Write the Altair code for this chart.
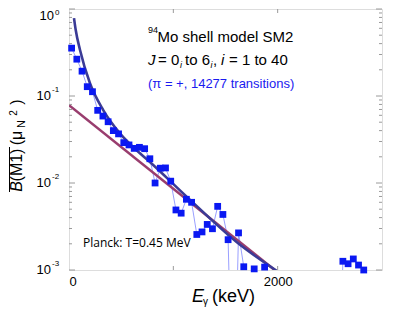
import altair as alt
import pandas as pd

# ---------------- data ----------------
energy_kev = [25, 75, 125, 175, 225, 275, 325, 375, 425, 475,
              525, 575, 625, 675, 725, 775, 825, 875, 925, 975,
              1025, 1075, 1125, 1175, 1225, 1275, 1325, 1375, 1425, 1475,
              1525, 1575, 1625, 1675, 1725, 1775, 1825, 1875,
              2575, 2625, 2675, 2725, 2775, 2825]
b_m1 = [0.355, 0.265, 0.193, 0.128, 0.112, 0.0684, 0.0588, 0.0506, 0.040, 0.0367,
        0.0291, 0.0274, 0.0250, 0.0257, 0.0248, 0.0190, 0.0100, 0.0148, 0.0149, 0.0105,
        0.0049, 0.0045, 0.0065, 0.0060, 0.00256, 0.00274, 0.00334, 0.00298, 0.00539, 0.00435,
        0.00223, 0.0, 0.00267, 0.00109, 0.0, 0.00103, 0.0, 0.00108,
        0.0, 0.00126, 0.00118, 0.00134, 0.00114, 0.00100]

fit_energy = [48, 64, 105, 201, 328, 488, 648, 749, 1158, 1636, 1990]
fit_b = [0.787, 0.577, 0.340, 0.140, 0.0689, 0.0372, 0.0238, 0.0186, 0.00644, 0.00196, 0.00098]

planck_energy = [0, 1971]
planck_b = [0.0785, 0.001]

x_tick_values = [1000, 2000]
x_label_values = [0, 2000]
y_major = [1, 0.1, 0.01, 0.001]
y_exponents = ["0", "-1", "-2", "-3"]
y_minor = [0.002, 0.003, 0.004, 0.005, 0.006, 0.007, 0.008, 0.009,
           0.02, 0.03, 0.04, 0.05, 0.06, 0.07, 0.08, 0.09,
           0.2, 0.3, 0.4, 0.5, 0.6, 0.7, 0.8, 0.9]

# ---------------- layout ----------------
W, H = 313, 261
FONT = "Liberation Sans"
GRAY = "#9a9a9a"

xscale = alt.Scale(domain=[0, 3000], nice=False, zero=False)
yscale = alt.Scale(type="log", domain=[0.001, 1], nice=False)
xaxis = alt.Axis(values=x_label_values, format="d", ticks=False, domain=False, grid=False,
                 title=None, labelFontSize=13, labelFont=FONT, labelColor="black",
                 labelPadding=5)

df = pd.DataFrame({"E": energy_kev, "B": b_m1})
df["seg"] = (df["E"].diff() > 200).cumsum()

thin = (alt.Chart(df)
        .transform_calculate(Bp="datum.B > 0 ? datum.B : 1e-5")
        .mark_line(color="#7f86ff", strokeWidth=0.8, clip=True)
        .encode(x=alt.X("E:Q", scale=xscale, axis=xaxis),
                y=alt.Y("Bp:Q", scale=yscale, axis=None),
                detail="seg:N"))

pts = (alt.Chart(df)
       .transform_filter("datum.B > 0")
       .mark_point(shape="square", filled=True, size=46, color="#0a18f2", opacity=1)
       .encode(x=alt.X("E:Q", scale=xscale, axis=xaxis),
               y=alt.Y("B:Q", scale=yscale, axis=None)))

planck = (alt.Chart(pd.DataFrame({"E": planck_energy, "B": planck_b}))
          .mark_line(color="#993d6e", strokeWidth=2.6, clip=True)
          .encode(x=alt.X("E:Q", scale=xscale, axis=xaxis),
                  y=alt.Y("B:Q", scale=yscale, axis=None)))

fit = (alt.Chart(pd.DataFrame({"E": fit_energy, "B": fit_b}))
       .mark_line(color="#3b3b96", strokeWidth=2.6, clip=True, interpolate="monotone")
       .encode(x=alt.X("E:Q", scale=xscale, axis=xaxis),
               y=alt.Y("B:Q", scale=yscale, axis=None)))

# ticks (inward)
ymaj_df = pd.DataFrame({"v": y_major, "e": y_exponents})
ymin_df = pd.DataFrame({"v": y_minor})
xt_df = pd.DataFrame({"v": x_tick_values})


def yrule(data, x0, x1):
    return (alt.Chart(data).mark_rule(color=GRAY, strokeWidth=1)
            .encode(y=alt.Y("v:Q", scale=yscale, axis=None),
                    x=alt.value(x0), x2=alt.value(x1)))


def xrule(data, y0, y1):
    return (alt.Chart(data).mark_rule(color=GRAY, strokeWidth=1)
            .encode(x=alt.X("v:Q", scale=xscale, axis=xaxis),
                    y=alt.value(y0), y2=alt.value(y1)))


ticks = [
    yrule(ymaj_df, 0, 6), yrule(ymin_df, 0, 3),
    yrule(ymaj_df, W - 6, W), yrule(ymin_df, W - 3, W),
    xrule(xt_df, H, H - 4), xrule(xt_df, 0, 4),
]

# y tick labels 10^k
ylab_ten0 = (alt.Chart(ymaj_df).transform_filter("datum.v == 1")
             .mark_text(text="10", align="right", baseline="middle", fontSize=13, font=FONT, color="black", dy=6.5)
             .encode(y=alt.Y("v:Q", scale=yscale, axis=None), x=alt.value(-15)))
ylab_exp0 = (alt.Chart(ymaj_df).transform_filter("datum.v == 1")
             .mark_text(align="left", baseline="middle", fontSize=8, font=FONT, color="black", dy=3.5)
             .encode(y=alt.Y("v:Q", scale=yscale, axis=None), x=alt.value(-14), text="e:N"))
ylab_ten = (alt.Chart(ymaj_df).transform_filter("datum.v < 1")
            .mark_text(text="10", align="right", baseline="middle", fontSize=13, font=FONT, color="black")
            .encode(y=alt.Y("v:Q", scale=yscale, axis=None), x=alt.value(-18)))
ylab_exp = (alt.Chart(ymaj_df).transform_filter("datum.v < 1")
            .mark_text(align="left", baseline="middle", fontSize=8, font=FONT, color="black", dy=-6)
            .encode(y=alt.Y("v:Q", scale=yscale, axis=None), x=alt.value(-17), text="e:N"))


def label(text, x, y, size, color="black", italic=False, angle=0, align="left",
          font=FONT, baseline="alphabetic"):
    kw = dict(align=align, baseline=baseline, fontSize=size, font=font, color=color)
    if italic:
        kw["fontStyle"] = "italic"
    if angle:
        kw["angle"] = angle
    return (alt.Chart(pd.DataFrame({"t": [text]}))
            .mark_text(**kw)
            .encode(text="t:N", x=alt.value(x), y=alt.value(y)))


# page coordinates -> plot coordinates: x - 69, y - 9
def P(text, px, py, size, **kw):
    return label(text, px - 69, py - 9, size, **kw)


texts = [
    # title block
    P("94", 148, 33, 9),
    P("Mo shell model SM2", 157.5, 42, 15),
    P("J", 148, 65, 15, italic=True),
    P("= 0", 158, 65, 15),
    P("i", 180, 68, 9, italic=True),
    P("to 6", 185, 65, 15),
    P("i", 210.5, 68, 9, italic=True),
    P(",", 213, 65, 15),
    P("i", 221, 65, 15, italic=True),
    P("= 1 to 40", 229, 65, 15),
    P("(\u03c0 = +, 14277 transitions)", 148, 88, 13, color="#1a1af0"),
    # Planck label
    P("Planck: T=0.45 MeV", 83, 247, 12, font="Open Sans"),
    # x title
    P("E", 192, 302, 18, italic=True),
    P("\u03b3", 203, 305, 10),
    P("(keV)", 212, 302, 18),
    # y title (rotated)
    P("B", 21.5, 186.5, 16, italic=True, angle=270, align="center"),
    P("(M1)", 21.5, 165, 16, angle=270, align="center"),
    P("(\u03bc", 21.5, 138, 16, angle=270, align="center"),
    P("N", 24.5, 124, 11, angle=270, align="center"),
    P("2", 17, 113, 10, angle=270, align="center"),
    P(")", 21.5, 102, 16, angle=270, align="center"),
]

overline = (alt.Chart(pd.DataFrame({"a": [0]})).mark_rule(color="black", strokeWidth=1)
            .encode(x=alt.value(9.5 - 69), y=alt.value(147 - 9), y2=alt.value(192 - 9)))

chart = (alt.layer(thin, planck, fit, pts, *ticks, ylab_ten0, ylab_exp0, ylab_ten, ylab_exp,
                   *texts, overline)
         .properties(width=W, height=H,
                     autosize=alt.AutoSizeParams(type="none"),
                     padding={"left": 61, "top": 1, "right": 20, "bottom": 38})
         .configure_view(stroke=GRAY, strokeWidth=1)
         .configure(background="white"))

chart.save("out.html", embed_options={"renderer": "svg", "actions": False})
